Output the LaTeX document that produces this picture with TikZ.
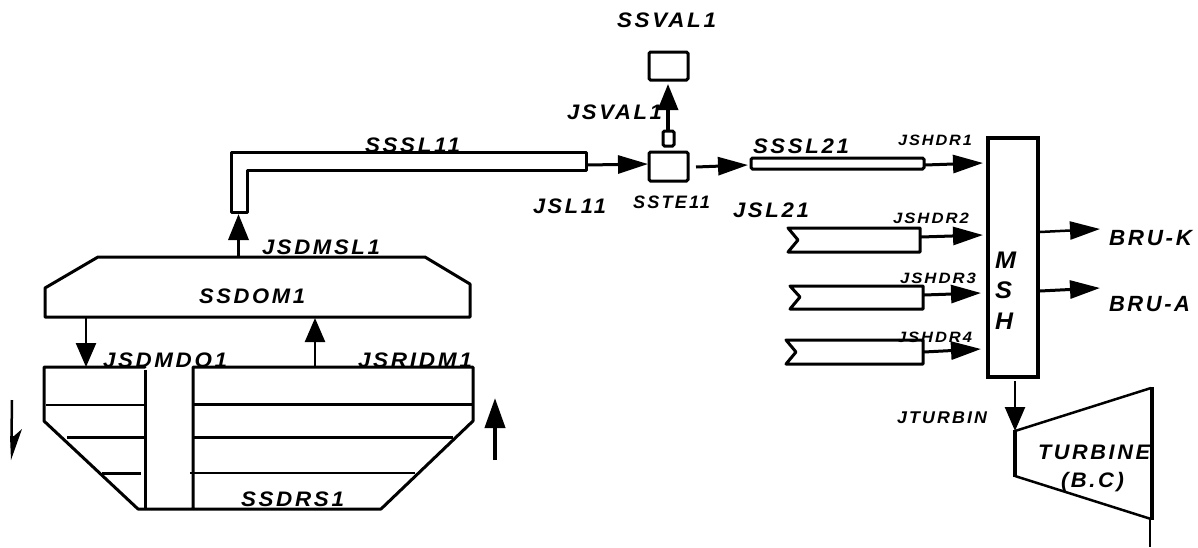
\documentclass[tikz,border=0pt]{standalone}
\usepackage{graphicx}
\usepackage{fontspec}
\setmainfont{Liberation Sans}[LetterSpace=12]
\usetikzlibrary{arrows.meta}
\newcommand{\lab}[6]{\node[lbl] (#1) at (#2,#3) {\resizebox{#4pt}{\height}{\fontsize{#5}{#5}\selectfont\bfseries\itshape #6}};}
\tikzset{
  x=1pt,y=-1pt,
  lbl/.style={anchor=base west,inner sep=0pt,outer sep=0pt,text=black},
  vessel/.style={draw=black,line width=3pt,line join=round,line cap=round},
  thinrule/.style={draw=black,line width=2pt},
  midrule/.style={draw=black,line width=3pt},
  boxn/.style={draw=black,line width=3pt,rounded corners=1.5pt,inner sep=0pt,minimum width=#1},
  flow/.style={draw=black,line width=3pt,-{Triangle[length=30pt,width=18pt]}},
  flowv/.style={draw=black,line width=3.5pt,-{Triangle[length=26pt,width=20pt]}},
  flown/.style={draw=black,line width=2.5pt,-{Triangle[length=24pt,width=20pt]}}
}
\begin{document}
\begin{tikzpicture}
\path[use as bounding box,fill=white] (0,0) rectangle (1198,547);
% labels go first: the lines of the drawing run over them
\lab{lSSVAL}{617}{27}{99}{21}{SSVAL1}
\lab{lJSVAL}{567}{119}{95}{21}{JSVAL1}
\lab{lSSSL1}{365}{152}{95}{21}{SSSL11}
\lab{lJSL11}{533}{213}{73}{21}{JSL11}
\lab{lSSTE}{633}{208}{77}{18}{SSTE11}
\lab{lSSSL2}{753}{153}{96}{21}{SSSL21}
\lab{lJSL21}{733}{217}{76}{21}{JSL21}
\lab{lH1}{898}{145}{74}{15}{JSHDR1}
\lab{lH2}{893}{223}{76}{15}{JSHDR2}
\lab{lH3}{900}{283}{76}{15}{JSHDR3}
\lab{lH4}{897}{342}{75}{15}{JSHDR4}
\lab{lBRUK}{1109}{245}{83}{22}{BRU-K}
\lab{lBRUA}{1109}{311}{81}{22}{BRU-A}
\lab{lM}{995}{268}{21}{24}{M}
\lab{lS}{995}{298}{17}{24}{S}
\lab{lH}{995}{329}{18}{24}{H}
\lab{lJT}{897}{423}{90}{17}{JTURBIN}
\lab{lTU}{1038}{459}{112}{21}{TURBINE}
\lab{lBC}{1061}{487}{63}{21}{(B.C)}
\lab{lJSDMSL}{262}{254}{118}{21}{JSDMSL1}
\lab{lSSDOM}{199}{303}{106}{21}{SSDOM1}
\lab{lJSDMDO}{103}{367}{124}{21}{JSDMDO1}
\lab{lJSRIDM}{358}{367}{114}{21}{JSRIDM1}
\lab{lSSDRS}{241}{506}{103}{21}{SSDRS1}
% steam dome
\draw[vessel] (45,317) -- (45,288) -- (98,257) -- (425,257) -- (470,284) -- (470,317) -- cycle;
% SSSL11 pipe
\draw[vessel] (231,212) -- (231,152) -- (586,152) -- (586,170) -- (247,170) -- (247,212) -- cycle;
% boxes
\node[boxn=39pt,minimum height=28pt] (valve) at (668.5,66) {};
\node[boxn=39pt,minimum height=29pt] (tee) at (668.5,166.5) {};
\node[boxn=11pt,minimum height=15pt] (stub) at (668.5,138.5) {};
\node[boxn=173pt,minimum height=11pt] (sl21) at (837.5,163.5) {};
\node[draw=black,line width=3.5pt,inner sep=0pt,minimum width=50pt,minimum height=239pt] (msh) at (1013,257.5) {};
% headers with broken ends
\draw[vessel,line cap=butt] (788,228) -- (920,228) -- (920,252) -- (788,252) -- (798,240) -- cycle;
\draw[vessel,line cap=butt] (790,286) -- (923,286) -- (923,309) -- (790,309) -- (800,297) -- cycle;
\draw[vessel,line cap=butt] (786,340) -- (923,340) -- (923,364) -- (786,364) -- (796,352) -- cycle;
% turbine
\draw[draw=black,line width=2.5pt] (1015,431) -- (1151,388);
\draw[draw=black,line width=2.5pt] (1015,476) -- (1151,519);
\draw[draw=black,line width=4pt] (1014.5,430) -- (1014.5,477);
\draw[draw=black,line width=4pt] (1151.5,387) -- (1151.5,520);
\coordinate (tailA) at (1150,519);
\coordinate (tailB) at (1150,547);
\draw[line width=2.5pt] (tailA) -- (tailB);
% drum
\draw[vessel] (145,367) -- (44,367) -- (44,421) -- (138,509) -- (381,509) -- (473,421) -- (473,367) -- (193,367) -- (193,509);
\draw[line width=3pt] (145,370) -- (145,509);
\draw[thinrule] (46,405) -- (145,405);
\draw[midrule] (193,404) -- (473,404);
\draw[midrule] (67,437.5) -- (145,437.5);
\draw[midrule] (193,437.5) -- (453,437.5);
\draw[midrule] (102,473.5) -- (141,473.5);
\draw[thinrule] (190,473) -- (415,473);
\draw[line width=1pt,draw=black] (145,509) -- (190,509);
% flow connectors
\coordinate (a1) at (86,318); \coordinate (a1e) at (86,367);
\draw[flown] (a1) -- (a1e);
\coordinate (a2) at (315,367); \coordinate (a2e) at (315,318);
\draw[flown] (a2) -- (a2e);
\coordinate (a3) at (238.5,257); \coordinate (a3e) at (238.5,214);
\draw[flowv] (a3) -- (a3e);
\coordinate (a4) at (668,131); \coordinate (a4e) at (668,84);
\draw[flowv] (a4) -- (a4e);
\coordinate (a5) at (587,165); \coordinate (a5e) at (648,164);
\draw[flow] (a5) -- (a5e);
\coordinate (a6) at (696,167); \coordinate (a6e) at (748,165);
\draw[flow] (a6) -- (a6e);
\coordinate (h1) at (925,165); \coordinate (h1e) at (983,163);
\draw[flow] (h1) -- (h1e);
\coordinate (h2) at (921,237); \coordinate (h2e) at (983,235);
\draw[flow] (h2) -- (h2e);
\coordinate (h3) at (924,295); \coordinate (h3e) at (981,293);
\draw[flow] (h3) -- (h3e);
\coordinate (h4) at (924,352); \coordinate (h4e) at (981,349);
\draw[flow] (h4) -- (h4e);
\coordinate (b1) at (1040,232); \coordinate (b1e) at (1100,229);
\draw[flow,line width=2.5pt] (b1) -- (b1e);
\coordinate (b2) at (1040,291); \coordinate (b2e) at (1100,288);
\draw[flow] (b2) -- (b2e);
\coordinate (t1) at (1015,381); \coordinate (t1e) at (1015,431);
\draw[flown] (t1) -- (t1e);
\coordinate (r1) at (495,460); \coordinate (r1e) at (495,398);
\draw[draw=black,line width=4pt,-{Triangle[length=30pt,width=20pt]}] (r1) -- (r1e);
% half-headed arrow at far left
\coordinate (l1) at (12,400); \coordinate (l1e) at (11.5,437);
\draw[line width=2.5pt] (l1) -- (l1e);
\fill (10,436) -- (14,436) -- (22,429) -- (11,460) -- cycle;
\end{tikzpicture}
\end{document}
